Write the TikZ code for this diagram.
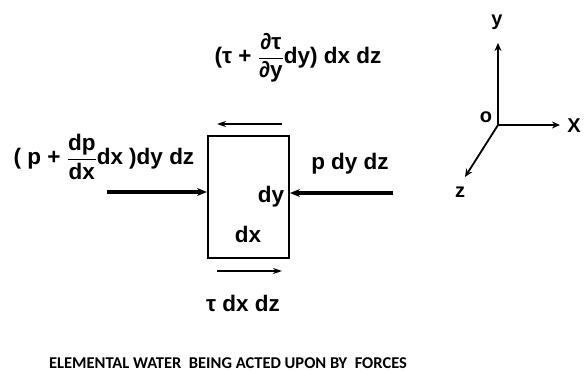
\documentclass[tikz,border=0pt]{standalone}
\usepackage{amsmath}
\usepackage{fontspec}
\setmainfont{Liberation Sans}
\newfontfamily\capfont{Carlito}
\usetikzlibrary{arrows.meta}
\newcommand*{\fr}[2]{$\dfrac{\text{#1}}{\text{#2}}$}
\tikzset{
  force/.style={line width=3.2pt,-{Stealth[length=10pt,width=8pt]}},
  shear/.style={line width=2.6pt,-{Stealth[length=9pt,width=6pt]}},
  axis/.style={line width=1.8pt,-{Stealth[length=8pt,width=7pt]}},
  lbl/.style={inner sep=0pt,font=\bfseries\fontsize{22.5}{24}\selectfont},
  axlbl/.style={inner sep=0pt,font=\bfseries\fontsize{20}{20}\selectfont}
}
\begin{document}
\begin{tikzpicture}[x=1pt,y=-1pt]
\useasboundingbox (0,0) rectangle (584,371);

%Element
\draw [line width=2.6pt] (208,136) rectangle (289,258);
\node[lbl] (dy) at (271,197) {dy};
\node[lbl] (dx) at (248,234) {dx};

%Shear on top and bottom
\coordinate (T1) at (282,124);
\coordinate (T2) at (217,124);
\draw [shear] (T1) -- (T2);
\coordinate (B1) at (217,271);
\coordinate (B2) at (282,271);
\draw [shear] (B1) -- (B2);
\node[lbl] (topf) at (298,58) {(τ + \fr{∂τ}{∂y}dy) dx dz};
\node[lbl] (botf) at (243,303) {τ dx dz};

%Pressure on the sides
\coordinate (L1) at (107,192);
\coordinate (L2) at (207,192);
\draw [force] (L1) -- (L2);
\coordinate (R1) at (393,193);
\coordinate (R2) at (290,193);
\draw [force] (R1) -- (R2);
\node[lbl] (leftf) at (104,157) {( p + \fr{dp}{dx}dx )dy dz};
\node[lbl] (rightf) at (350,164) {p dy dz};

%Axes
\coordinate (o) at (498,125);
\coordinate (yt) at (498,43);
\coordinate (xt) at (560,125);
\coordinate (zt) at (465,177);
\draw [axis] (o) -- (yt);
\draw [axis] (o) -- (xt);
\draw [axis] (o) -- (zt);
\node[axlbl] (olab) at (486,117) {o};
\node[axlbl] (ylab) at (497,22) {y};
\node[axlbl] (xlab) at (574,126) {X};
\node[axlbl] (zlab) at (460,192) {z};

%Caption
\node[inner sep=0pt,font=\capfont\bfseries\fontsize{16.5}{18}\selectfont] (cap) at (228,363)
  {ELEMENTAL WATER\ \ BEING ACTED UPON BY\ \ FORCES};
\end{tikzpicture}
\end{document}
